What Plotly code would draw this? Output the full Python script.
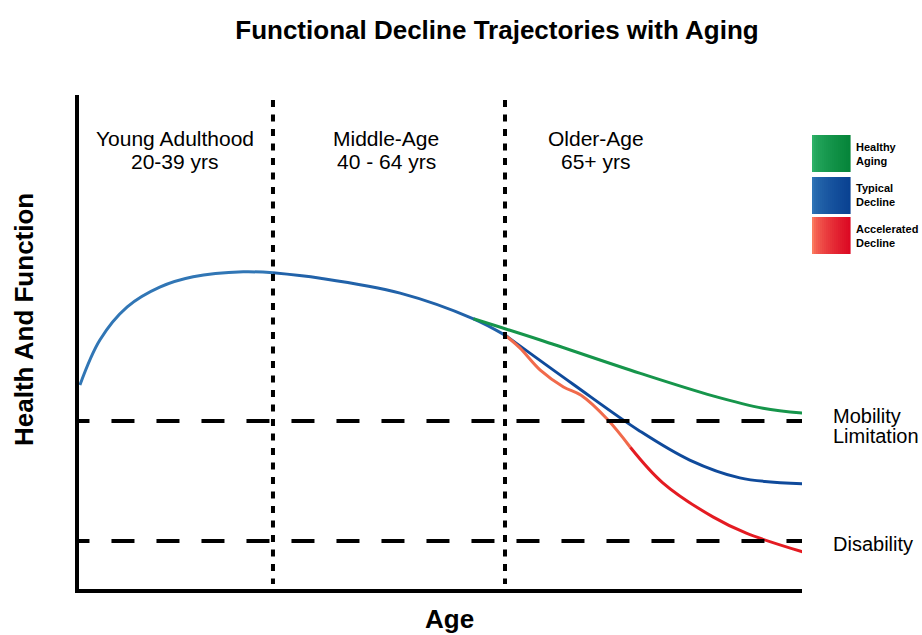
import plotly.graph_objects as go

# ---------------- data ----------------
TITLE = "Functional Decline Trajectories with Aging"
X_TITLE = "Age"
Y_TITLE = "Health And Function"

# typical decline trajectory (age, health/function score 0-100)
typical_age = [19.2, 21.35, 24.3, 27.8, 31.4, 36.8, 40.0,
               45.1, 53.7, 61.6, 65.0,
               72.3, 79.5, 84.9, 90.3, 97.1]
typical_fn = [41.3, 50.4, 57.1, 61.1, 63.2, 64.2, 64.0,
              62.9, 59.9, 54.7, 51.4,
              41.5, 32.0, 26.1, 22.5, 21.3]

healthy_age = [61.6, 68.8, 79.5, 87.4, 92.8, 97.1]
healthy_fn = [54.7, 50.4, 43.7, 39.1, 36.6, 35.6]

accel_age = [65.0, 66.6, 68.8, 71.3, 73.2, 76.0, 78.5, 82.0, 87.4, 91.0, 97.1]
accel_fn = [51.4, 48.8, 44.3, 40.9, 39.2, 34.4, 28.7, 21.5, 14.6, 11.3, 7.5]

thresholds = [34.0, 9.7]
threshold_labels = [["Mobility", "Limitation"], ["Disability"]]
stage_bounds = [40, 65]
stage_centers = [29.4, 52.2, 74.8]
stage_names = ["Young Adulthood", "Middle-Age", "Older-Age"]
stage_ranges = ["20-39 yrs", "40 - 64 yrs", "65+ yrs"]
legend_names = ["Healthy<br>Aging", "Typical<br>Decline", "Accelerated<br>Decline"]

X_RANGE = [19.1, 97.0]
Y_RANGE = [0, 100]

# ---------------- layout geometry ----------------
W, H = 922, 635
L, R, T, B = 79, 120, 95, 46
PW, PH = W - L - R, H - T - B
FONT = "Liberation Sans, Arial, Helvetica, sans-serif"


def px_x(px):
    return (px - L) / PW


def px_y(py):
    return (H - B - py) / PH


def hex2rgb(h):
    h = h.lstrip("#")
    return tuple(int(h[i:i + 2], 16) for i in (0, 2, 4))


def mix(c1, c2, t):
    a, b = hex2rgb(c1), hex2rgb(c2)
    return "rgb(%d,%d,%d)" % tuple(round(a[i] + (b[i] - a[i]) * t) for i in range(3))


fig = go.Figure()


def add_segments(xs, ys, cuts, colors, width=3):
    for i, col in enumerate(colors):
        a, b = cuts[i], cuts[i + 1]
        fig.add_trace(go.Scatter(
            x=xs[a:b + 1], y=ys[a:b + 1], mode="lines",
            line=dict(color=col, width=width, shape="spline", smoothing=1.0),
            hoverinfo="skip", showlegend=False))


# typical (blue) - light to dark
add_segments(typical_age, typical_fn, [0, 6, 10, 15],
             ["#3176b5", "#2162a9", "#0f4a9b"])
# healthy (green)
add_segments(healthy_age, healthy_fn, [0, 5], ["#16954b"])
# accelerated (orange -> red)
add_segments(accel_age, accel_fn, [0, 6, 10], ["#f16a4b", "#e41b22"])

shapes = []
# threshold dashed lines (clipped to plot area)
for thr in thresholds:
    shapes.append(dict(type="line", xref="x", yref="y", x0=17.75, x1=X_RANGE[1] + 1, y0=thr, y1=thr,
                       line=dict(color="black", width=4, dash="23px,22px"), layer="above"))

# stage boundaries (dotted verticals)
for xb in stage_bounds:
    shapes.append(dict(type="line", xref="x", yref="y", x0=xb, x1=xb, y0=99.0, y1=1.0,
                       line=dict(color="black", width=4, dash="7px,7.5px"), layer="above"))

annotations = []
for cx, nm, rg in zip(stage_centers, stage_names, stage_ranges):
    annotations.append(dict(x=cx, y=px_y(138), xref="x", yref="paper", text=nm,
                            showarrow=False, xanchor="center", yanchor="middle",
                            font=dict(family=FONT, size=21, color="black")))
    annotations.append(dict(x=cx, y=px_y(161), xref="x", yref="paper", text=rg,
                            showarrow=False, xanchor="center", yanchor="middle",
                            font=dict(family=FONT, size=21, color="black")))

thr_label_px = [[416, 436], [544]]
for lines, pys in zip(threshold_labels, thr_label_px):
    for txt, py in zip(lines, pys):
        annotations.append(dict(x=px_x(831), y=px_y(py), xref="paper", yref="paper",
                                text=txt, showarrow=False, xanchor="left", yanchor="middle",
                                font=dict(family=FONT, size=20, color="black")))

annotations.append(dict(x=px_x(24), y=px_y(320), xref="paper", yref="paper", text="<b>%s</b>" % Y_TITLE,
                        showarrow=False, textangle=-90, xanchor="center", yanchor="middle",
                        font=dict(family=FONT, size=26, color="black")))
annotations.append(dict(x=px_x(450), y=px_y(619), xref="paper", yref="paper", text="<b>%s</b>" % X_TITLE,
                        showarrow=False, xanchor="center", yanchor="middle",
                        font=dict(family=FONT, size=26, color="black")))

# legend: gradient boxes + labels
box_colors = [("#2eb168", "#06853a"), ("#2f74b6", "#0a4292"), ("#fb7c60", "#dc0a24")]
box_tops = [135, 177, 217]
box_h = 37
x0b, x1b = 812, 850
nstrip = 19
for (c1, c2), top, name in zip(box_colors, box_tops, legend_names):
    for k in range(nstrip):
        t = k / (nstrip - 1)
        xa = x0b + (x1b - x0b) * k / nstrip
        xb = x0b + (x1b - x0b) * (k + 1) / nstrip
        shapes.append(dict(type="rect", xref="paper", yref="paper",
                           x0=px_x(xa), x1=px_x(xb + 0.6), y0=px_y(top + box_h), y1=px_y(top),
                           line=dict(width=0), fillcolor=mix(c1, c2, t ** 0.6), layer="above"))
    annotations.append(dict(x=px_x(854), y=px_y(top + box_h / 2), xref="paper", yref="paper",
                            text="<b>%s</b>" % name, showarrow=False, xanchor="left", yanchor="middle",
                            align="left", font=dict(family=FONT, size=11, color="black")))

axis_common = dict(showline=True, linecolor="black", linewidth=4, showgrid=False, zeroline=False,
                   showticklabels=False, ticks="", fixedrange=True)

fig.update_layout(
    width=W, height=H,
    margin=dict(l=L, r=R, t=T, b=B, pad=0),
    paper_bgcolor="white", plot_bgcolor="white",
    title=dict(text="<b>%s</b>" % TITLE, x=497 / W, xref="container", xanchor="center",
               y=1 - 30 / H, yref="container", yanchor="middle",
               font=dict(family=FONT, size=26, color="black")),
    xaxis=dict(range=X_RANGE, **axis_common),
    yaxis=dict(range=Y_RANGE, **axis_common),
    annotations=annotations,
    shapes=shapes,
    showlegend=False,
)

fig.write_html("out.html", config={"displayModeBar": False},
               post_script="document.body.style.margin='0';document.body.style.padding='0';"
                           "document.body.style.overflow='hidden';")
